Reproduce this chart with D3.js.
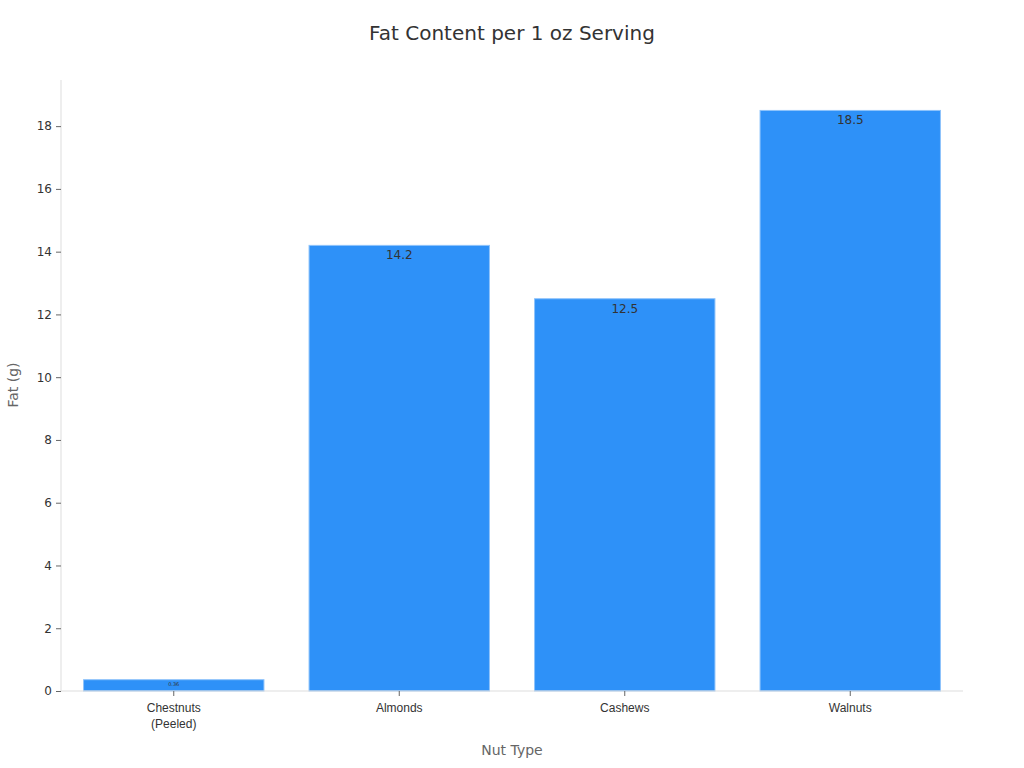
<!DOCTYPE html><html><head><script src="https://cdn.jsdelivr.net/npm/d3@7"></script>
<style>body{margin:0;background:#fff;font-family:"DejaVu Sans",sans-serif}</style></head><body><svg id="c" width="1024" height="768"></svg>
<script>
const categories=[["Chestnuts","(Peeled)"],["Almonds"],["Cashews"],["Walnuts"]];
const values=[0.36,14.2,12.5,18.5];
const labels=["0.36","14.2","12.5","18.5"];
const ticks=[0,2,4,6,8,10,12,14,16,18];
const svg=d3.select("#c");
const L=61,R=963,T=80,B=691;
const x=d3.scaleBand().domain(d3.range(4)).range([L,R]).paddingInner(0.2).paddingOuter(0.1);
const y=d3.scaleLinear().domain([0,19.47]).range([B,T]);
svg.append("text").attr("x",512).attr("y",40).attr("text-anchor","middle").attr("font-size",20).attr("fill","#333").text("Fat Content per 1 oz Serving");
svg.selectAll("rect.b").data(values).join("rect").attr("x",(d,i)=>x(i)).attr("width",x.bandwidth()).attr("y",d=>y(d)).attr("height",d=>B-y(d)).attr("fill","#2e91f8").attr("stroke","#8ec3fb").attr("stroke-width",1);
svg.selectAll("text.v").data(values).join("text").attr("x",(d,i)=>x(i)+x.bandwidth()/2).attr("y",d=>y(d)+(d<1?6:14)).attr("text-anchor","middle").attr("font-size",(d)=>d<1?5:12).attr("fill","#333").text((d,i)=>labels[i]);
const ya=svg.append("g").attr("transform",`translate(${L},0)`).call(d3.axisLeft(y).tickValues(ticks).tickSize(5).tickPadding(4));
ya.select(".domain").attr("stroke","#ddd").attr("d",`M0,${T}V${B}`);
ya.selectAll(".tick line").attr("stroke","#666");
ya.selectAll("text").attr("font-size",12).attr("fill","#333").attr("font-family","DejaVu Sans");
const xa=svg.append("g").attr("transform",`translate(0,${B})`).call(d3.axisBottom(x).tickSize(5).tickFormat(""));
xa.select(".domain").attr("stroke","#ddd").attr("d",`M${L},0H${R}`);
xa.selectAll(".tick line").attr("stroke","#666");
xa.selectAll(".tick").each(function(d){const t=d3.select(this).append("text").attr("fill","#333").attr("font-size",12).attr("text-anchor","middle");categories[d].forEach((s,k)=>t.append("tspan").attr("x",0).attr("y",21+k*16).text(s));});
svg.append("text").attr("x",512).attr("y",755).attr("text-anchor","middle").attr("font-size",14).attr("fill","#666").text("Nut Type");
svg.append("text").attr("transform","translate(18,385) rotate(-90)").attr("text-anchor","middle").attr("font-size",14).attr("fill","#666").text("Fat (g)");
</script></body></html>
